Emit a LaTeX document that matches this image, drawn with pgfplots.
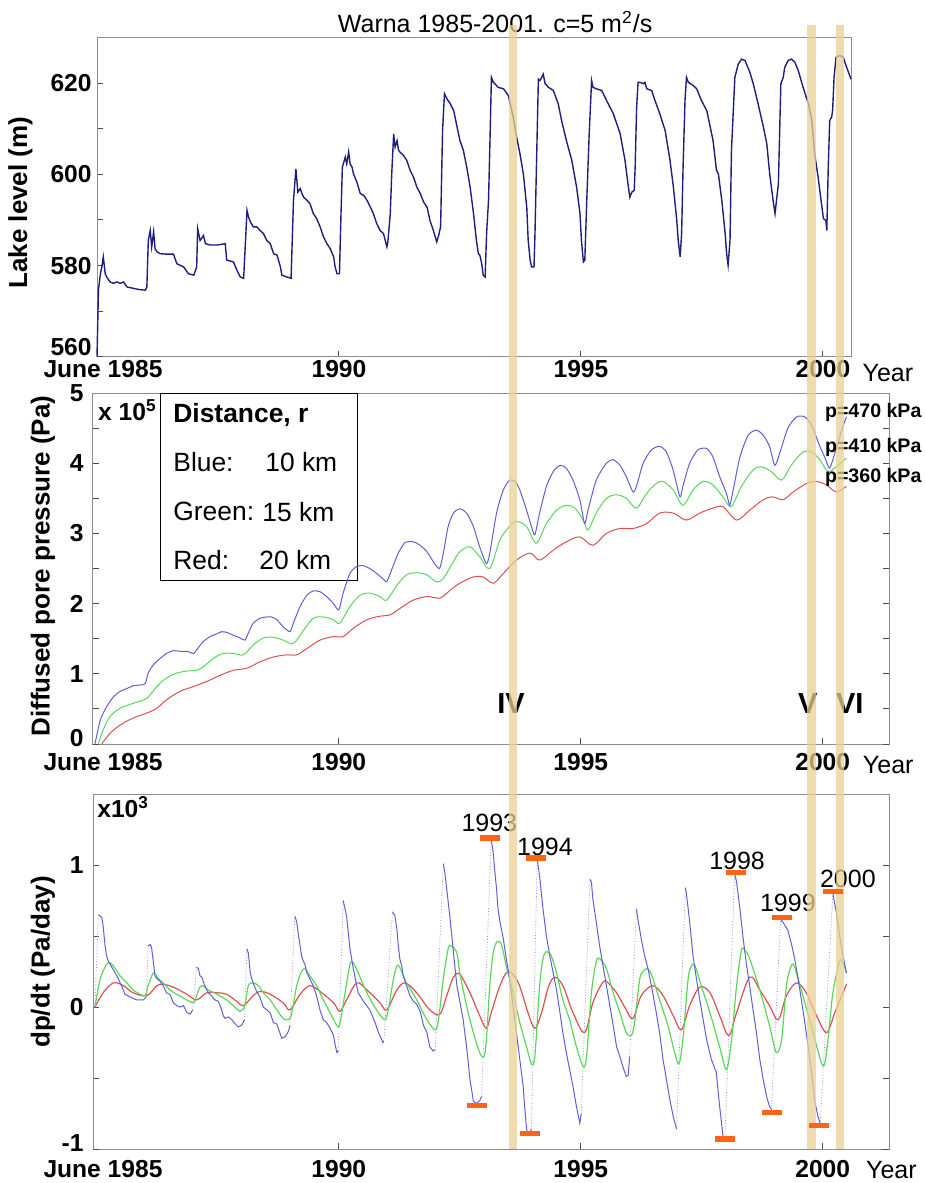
\documentclass[border=0pt]{standalone}
\usepackage{fontspec}
\setmainfont{Liberation Sans}
\usepackage{pgfplots}
\pgfplotsset{compat=1.18}

\definecolor{lakeblue}{RGB}{30,30,128}
\definecolor{pblue}{RGB}{95,95,215}
\definecolor{pgreen}{RGB}{90,215,90}
\definecolor{pred}{RGB}{220,80,80}
\definecolor{band}{RGB}{232,208,150}
\definecolor{peak}{RGB}{255,100,20}
\definecolor{frame}{RGB}{140,140,140}

\newcommand\tickfont{\fontsize{12.3}{14}\selectfont\bfseries}
\newcommand\labfont{\fontsize{13}{15}\selectfont\bfseries}
\newcommand\txtfont{\fontsize{12.5}{14}\selectfont}

\pgfplotsset{
  panel/.style={
    scale only axis,
    clip=false,
    axis line style={frame, line width=0.5pt},
    tick style={black!70, line width=0.5pt},
    tick align=inside,
    major tick length=3pt,
    minor tick length=3pt,
    xtick pos=left,
    ticklabel style={font=\tickfont},
    /pgf/number format/assume math mode=true,
    label style={font=\labfont},
  },
}

\begin{document}
\begin{tikzpicture}
\useasboundingbox (0,0) rectangle (462.5pt,-591.5pt);

% ---------------- lake level ----------------
\begin{axis}[panel,
  at={(48.5pt,-18.85pt)}, anchor=north west,
  width=377pt, height=159.5pt,
  xmin=1985, xmax=2000.58, ymin=560, ymax=630,
  ytick={580,600,620}, minor ytick={570,590,610},
  extra y ticks={560},
  extra y tick style={yticklabel style={yshift=5pt}},
  ytick pos=left,
  xtick={1985,1990,1995,2000},
  xticklabels={{\hspace*{6pt}June 1985},1990,1995,2000},
  xticklabel style={inner sep=1.5pt},
  yticklabel style={inner sep=2.5pt},
  ylabel={Lake level (m)},
  ylabel style={at={(axis description cs:-0.1015,0.483)}, anchor=center},
]
\addplot[lakeblue, line width=0.7pt] table[row sep=\\] {
1985.00 560.0\\ 1985.03 574.6\\ 1985.07 578.2\\ 1985.10 579.7\\ 1985.13 581.9\\
1985.17 578.2\\ 1985.20 577.5\\ 1985.27 576.4\\ 1985.34 576.1\\ 1985.41 576.4\\
1985.48 576.1\\ 1985.55 576.4\\ 1985.62 575.3\\ 1985.75 575.0\\ 1985.89 574.7\\
1986.00 574.6\\ 1986.03 575.3\\ 1986.06 585.5\\ 1986.10 587.7\\ 1986.13 584.1\\
1986.17 587.4\\ 1986.20 583.7\\ 1986.24 583.0\\ 1986.31 582.6\\ 1986.44 582.5\\
1986.58 582.5\\ 1986.65 580.4\\ 1986.79 579.7\\ 1986.89 578.2\\ 1987.00 577.9\\
1987.06 579.7\\ 1987.08 588.1\\ 1987.13 585.5\\ 1987.20 586.6\\ 1987.24 584.8\\
1987.34 584.5\\ 1987.48 584.5\\ 1987.65 584.8\\ 1987.68 581.2\\ 1987.82 580.8\\
1987.89 579.0\\ 1987.96 577.5\\ 1988.03 577.2\\ 1988.10 592.1\\ 1988.13 590.7\\
1988.17 589.6\\ 1988.23 588.5\\ 1988.30 588.5\\ 1988.37 587.7\\ 1988.44 587.0\\
1988.51 585.5\\ 1988.58 584.8\\ 1988.65 582.6\\ 1988.72 582.3\\ 1988.79 579.7\\
1988.82 577.9\\ 1988.92 577.5\\ 1989.01 577.2\\ 1989.06 594.3\\ 1989.11 601.2\\
1989.15 596.1\\ 1989.20 596.9\\ 1989.23 595.9\\ 1989.27 595.0\\ 1989.34 594.3\\
1989.40 593.6\\ 1989.47 591.4\\ 1989.54 590.3\\ 1989.61 588.5\\ 1989.68 586.3\\
1989.75 584.8\\ 1989.82 583.7\\ 1989.89 581.9\\ 1989.92 579.7\\ 1989.96 578.2\\
1990.01 578.2\\ 1990.04 590.7\\ 1990.07 601.6\\ 1990.13 603.8\\ 1990.16 602.3\\
1990.20 604.9\\ 1990.23 602.3\\ 1990.27 601.6\\ 1990.30 600.1\\ 1990.37 598.3\\
1990.44 595.8\\ 1990.51 595.4\\ 1990.58 594.3\\ 1990.65 592.8\\ 1990.71 591.4\\
1990.78 589.2\\ 1990.85 587.7\\ 1990.92 587.0\\ 1990.99 584.1\\ 1991.01 585.2\\
1991.06 591.4\\ 1991.09 600.1\\ 1991.13 608.9\\ 1991.16 606.0\\ 1991.20 607.4\\
1991.23 605.3\\ 1991.26 604.9\\ 1991.33 604.2\\ 1991.40 603.1\\ 1991.47 600.9\\
1991.54 599.4\\ 1991.61 597.2\\ 1991.68 595.8\\ 1991.75 593.9\\ 1991.82 592.8\\
1991.88 589.9\\ 1991.95 587.7\\ 1992.02 585.2\\ 1992.06 586.6\\ 1992.10 588.5\\
1992.14 609.6\\ 1992.18 617.7\\ 1992.23 616.6\\ 1992.30 615.5\\ 1992.37 614.0\\
1992.47 608.9\\ 1992.50 607.4\\ 1992.57 605.3\\ 1992.64 601.6\\ 1992.71 597.2\\
1992.78 591.4\\ 1992.84 585.5\\ 1992.88 582.6\\ 1992.91 582.3\\ 1992.95 580.4\\
1992.98 577.9\\ 1993.02 577.5\\ 1993.05 587.0\\ 1993.09 594.3\\ 1993.12 607.4\\
1993.15 621.3\\ 1993.19 620.2\\ 1993.22 619.9\\ 1993.29 619.1\\ 1993.40 618.8\\
1993.50 617.3\\ 1993.60 612.6\\ 1993.67 608.2\\ 1993.74 604.5\\ 1993.81 600.1\\
1993.88 592.8\\ 1993.91 585.5\\ 1993.95 581.2\\ 1993.98 579.7\\ 1994.03 579.7\\
1994.05 587.0\\ 1994.08 601.6\\ 1994.12 620.9\\ 1994.15 620.6\\ 1994.19 621.3\\
1994.22 622.0\\ 1994.26 619.9\\ 1994.33 619.1\\ 1994.43 618.4\\ 1994.53 615.5\\
1994.60 611.8\\ 1994.70 607.4\\ 1994.81 603.1\\ 1994.91 597.2\\ 1994.98 591.4\\
1995.01 585.5\\ 1995.05 580.8\\ 1995.08 581.2\\ 1995.12 594.3\\ 1995.17 608.9\\
1995.22 620.6\\ 1995.25 619.1\\ 1995.32 618.8\\ 1995.43 618.4\\ 1995.53 616.2\\
1995.67 613.3\\ 1995.81 608.9\\ 1995.91 603.1\\ 1995.98 597.2\\ 1996.01 595.0\\
1996.05 596.1\\ 1996.10 596.5\\ 1996.12 601.6\\ 1996.15 614.7\\ 1996.18 620.2\\
1996.22 620.2\\ 1996.29 619.9\\ 1996.32 620.2\\ 1996.36 618.8\\ 1996.46 618.4\\
1996.53 616.2\\ 1996.63 613.3\\ 1996.74 609.6\\ 1996.84 603.1\\ 1996.91 597.2\\
1996.98 589.9\\ 1997.01 585.5\\ 1997.05 581.9\\ 1997.08 587.0\\ 1997.11 601.6\\
1997.15 616.2\\ 1997.18 621.3\\ 1997.22 620.2\\ 1997.32 619.5\\ 1997.39 618.8\\
1997.49 616.2\\ 1997.60 614.0\\ 1997.73 607.4\\ 1997.80 600.9\\ 1997.84 600.1\\
1997.91 594.3\\ 1997.98 587.0\\ 1998.01 582.6\\ 1998.04 580.1\\ 1998.08 585.5\\
1998.11 605.3\\ 1998.18 621.3\\ 1998.25 624.2\\ 1998.32 625.3\\ 1998.39 625.0\\
1998.49 622.4\\ 1998.56 619.9\\ 1998.66 615.5\\ 1998.77 610.4\\ 1998.84 606.7\\
1998.90 600.1\\ 1998.97 594.3\\ 1999.01 591.4\\ 1999.08 598.0\\ 1999.13 619.9\\
1999.18 621.3\\ 1999.21 623.5\\ 1999.28 625.0\\ 1999.35 625.3\\ 1999.42 624.6\\
1999.49 622.8\\ 1999.59 619.1\\ 1999.70 615.5\\ 1999.77 611.8\\ 1999.83 604.5\\
1999.90 599.4\\ 1999.97 593.6\\ 2000.01 590.3\\ 2000.06 589.9\\ 2000.08 587.7\\
2000.11 601.6\\ 2000.14 611.8\\ 2000.18 612.6\\ 2000.20 614.0\\ 2000.23 621.3\\
2000.27 625.7\\ 2000.35 626.1\\ 2000.42 625.7\\ 2000.49 623.5\\ 2000.58 620.9\\
};
\node[font=\txtfont] at (axis description cs:0.528,1.049)
  {Warna 1985-2001. c=5 m\textsuperscript{2}/s};
\node[font=\txtfont] at (axis description cs:1.049,-0.050) {Year};
\end{axis}

% ---------------- diffused pore pressure ----------------
\begin{axis}[panel,
  at={(46.5pt,-196.5pt)}, anchor=north west,
  width=398pt, height=175.5pt,
  xmin=1984.92, xmax=2001.37, ymin=0, ymax=5,
  ytick={1,2,3,4,5}, minor ytick={0.5,1.5,2.5,3.5,4.5},
  extra y ticks={0},
  extra y tick style={yticklabel style={yshift=3pt}},
  ytick pos=both, yticklabel pos=left,
  xtick={1984.92,1990,1995,2000},
  xticklabels={{\hspace*{10pt}June 1985},1990,1995,2000},
  xticklabel style={inner sep=4.5pt},
  yticklabel style={inner sep=4.5pt},
  ylabel={Diffused pore pressure (Pa)},
  ylabel style={at={(axis description cs:-0.0628,0.507)}, anchor=center},
]
\node[font=\tickfont, anchor=west, inner sep=0pt] at (axis description cs:0.006,0.952)
  {x 10\textsuperscript{5}};
\draw[black, line width=0.5pt, fill=white]
  (axis description cs:0.0842,1.0) rectangle (axis description cs:0.3325,0.4652);
\begin{scope}[font=\fontsize{13.2}{15}\selectfont, inner sep=0pt]
\node[anchor=west, font=\fontsize{13.2}{15}\selectfont\bfseries] at (axis description cs:0.1005,0.938) {Distance, r};
\node[anchor=west] at (axis description cs:0.1005,0.802) {Blue:};
\node[anchor=west] at (axis description cs:0.2160,0.802) {10 km};
\node[anchor=west] at (axis description cs:0.1005,0.662) {Green:};
\node[anchor=west] at (axis description cs:0.2123,0.662) {15 km};
\node[anchor=west] at (axis description cs:0.1005,0.525) {Red:};
\node[anchor=west] at (axis description cs:0.2085,0.525) {20 km};
\end{scope}

\addplot[pred, line width=0.5pt, smooth, tension=0.5] table[row sep=\\] {
1985.10 0\\ 1985.27 0.15\\ 1985.48 0.27\\ 1985.75 0.37\\ 1986.03 0.44\\
1986.24 0.51\\ 1986.44 0.63\\ 1986.72 0.75\\ 1987.00 0.82\\ 1987.27 0.89\\
1987.55 0.98\\ 1987.82 1.05\\ 1988.10 1.08\\ 1988.37 1.17\\ 1988.65 1.24\\
1988.92 1.27\\ 1989.13 1.27\\ 1989.34 1.36\\ 1989.61 1.48\\ 1989.89 1.53\\
1990.09 1.53\\ 1990.30 1.65\\ 1990.58 1.77\\ 1990.85 1.82\\ 1991.06 1.84\\
1991.26 1.93\\ 1991.54 2.05\\ 1991.82 2.10\\ 1992.09 2.08\\ 1992.30 2.19\\
1992.50 2.29\\ 1992.78 2.38\\ 1992.98 2.38\\ 1993.19 2.29\\ 1993.40 2.43\\
1993.67 2.62\\ 1993.95 2.72\\ 1994.15 2.62\\ 1994.43 2.76\\ 1994.70 2.88\\
1994.98 2.95\\ 1995.25 2.83\\ 1995.53 3.00\\ 1995.81 3.07\\ 1996.08 3.07\\
1996.36 3.14\\ 1996.63 3.29\\ 1996.91 3.29\\ 1997.18 3.19\\ 1997.46 3.29\\
1997.73 3.36\\ 1997.94 3.38\\ 1998.22 3.19\\ 1998.49 3.33\\ 1998.77 3.48\\
1998.97 3.52\\ 1999.18 3.48\\ 1999.39 3.59\\ 1999.66 3.71\\ 1999.87 3.74\\
2000.08 3.69\\ 2000.28 3.59\\ 2000.49 3.67\\
};
\addplot[pgreen, line width=0.5pt, smooth, tension=0.5] table[row sep=\\] {
1985.03 0\\ 1985.13 0.20\\ 1985.27 0.39\\ 1985.48 0.51\\ 1985.75 0.58\\
1986.03 0.65\\ 1986.24 0.82\\ 1986.44 0.94\\ 1986.65 1.01\\ 1986.86 1.04\\
1987.06 1.05\\ 1987.20 1.10\\ 1987.41 1.22\\ 1987.61 1.29\\ 1987.82 1.29\\
1988.03 1.27\\ 1988.23 1.41\\ 1988.44 1.51\\ 1988.65 1.52\\ 1988.85 1.48\\
1989.06 1.43\\ 1989.27 1.62\\ 1989.47 1.79\\ 1989.68 1.81\\ 1989.89 1.77\\
1990.02 1.72\\ 1990.23 1.96\\ 1990.44 2.12\\ 1990.64 2.15\\ 1990.85 2.10\\
1990.99 2.05\\ 1991.20 2.26\\ 1991.40 2.41\\ 1991.61 2.44\\ 1991.82 2.41\\
1992.02 2.31\\ 1992.16 2.36\\ 1992.37 2.60\\ 1992.50 2.74\\ 1992.71 2.81\\
1992.91 2.67\\ 1993.12 2.50\\ 1993.33 2.91\\ 1993.53 3.10\\ 1993.67 3.17\\
1993.88 3.10\\ 1994.08 2.86\\ 1994.29 3.14\\ 1994.50 3.33\\ 1994.70 3.40\\
1994.88 3.36\\ 1995.05 3.19\\ 1995.15 3.05\\ 1995.32 3.29\\ 1995.53 3.50\\
1995.74 3.55\\ 1995.94 3.50\\ 1996.15 3.36\\ 1996.36 3.57\\ 1996.56 3.71\\
1996.70 3.74\\ 1996.91 3.62\\ 1997.11 3.40\\ 1997.32 3.62\\ 1997.53 3.74\\
1997.73 3.69\\ 1997.94 3.52\\ 1998.11 3.38\\ 1998.32 3.67\\ 1998.56 3.90\\
1998.73 3.95\\ 1998.94 3.88\\ 1999.15 3.76\\ 1999.35 3.97\\ 1999.59 4.16\\
1999.77 4.16\\ 1999.94 4.05\\ 2000.11 3.88\\ 2000.28 3.95\\ 2000.49 4.07\\
};
\addplot[pblue, line width=0.5pt, smooth, tension=0.4] table[row sep=\\] {
1984.96 0\\ 1985.07 0.34\\ 1985.20 0.53\\ 1985.34 0.67\\ 1985.48 0.75\\
1985.62 0.79\\ 1985.75 0.83\\ 1985.89 0.84\\ 1986.00 0.86\\ 1986.06 1.01\\
1986.17 1.13\\ 1986.31 1.22\\ 1986.44 1.29\\ 1986.58 1.33\\ 1986.72 1.32\\
1986.86 1.32\\ 1987.00 1.29\\ 1987.06 1.34\\ 1987.20 1.46\\ 1987.34 1.53\\
1987.48 1.57\\ 1987.58 1.60\\ 1987.68 1.59\\ 1987.82 1.55\\ 1987.96 1.51\\
1988.06 1.48\\ 1988.13 1.58\\ 1988.23 1.72\\ 1988.37 1.79\\ 1988.51 1.81\\
1988.61 1.81\\ 1988.72 1.77\\ 1988.85 1.67\\ 1988.99 1.60\\ 1989.06 1.72\\
1989.20 1.96\\ 1989.34 2.12\\ 1989.47 2.18\\ 1989.61 2.17\\ 1989.75 2.10\\
1989.89 2.00\\ 1990.00 1.91\\ 1990.09 2.15\\ 1990.23 2.43\\ 1990.37 2.53\\
1990.51 2.54\\ 1990.64 2.50\\ 1990.78 2.43\\ 1990.92 2.35\\ 1990.99 2.31\\
1991.09 2.48\\ 1991.23 2.72\\ 1991.37 2.87\\ 1991.54 2.88\\ 1991.68 2.83\\
1991.82 2.74\\ 1991.95 2.60\\ 1992.08 2.50\\ 1992.16 2.72\\ 1992.26 3.10\\
1992.37 3.29\\ 1992.50 3.35\\ 1992.64 3.29\\ 1992.78 3.10\\ 1992.91 2.81\\
1993.05 2.57\\ 1993.12 2.72\\ 1993.26 3.29\\ 1993.40 3.62\\ 1993.53 3.76\\
1993.64 3.74\\ 1993.74 3.62\\ 1993.88 3.33\\ 1993.98 3.10\\ 1994.05 2.98\\
1994.15 3.29\\ 1994.29 3.67\\ 1994.43 3.88\\ 1994.57 3.97\\ 1994.70 3.93\\
1994.84 3.76\\ 1994.98 3.48\\ 1995.08 3.14\\ 1995.15 3.33\\ 1995.32 3.76\\
1995.53 4.00\\ 1995.67 4.05\\ 1995.81 3.97\\ 1995.94 3.81\\ 1996.08 3.59\\
1996.15 3.67\\ 1996.29 4.00\\ 1996.46 4.19\\ 1996.63 4.24\\ 1996.77 4.16\\
1996.91 3.90\\ 1997.05 3.52\\ 1997.11 3.67\\ 1997.25 4.00\\ 1997.42 4.19\\
1997.60 4.21\\ 1997.73 4.09\\ 1997.87 3.81\\ 1998.01 3.57\\ 1998.08 3.40\\
1998.15 3.62\\ 1998.29 4.09\\ 1998.46 4.40\\ 1998.63 4.47\\ 1998.77 4.40\\
1998.90 4.24\\ 1999.01 3.97\\ 1999.11 4.14\\ 1999.28 4.50\\ 1999.46 4.66\\
1999.63 4.66\\ 1999.77 4.54\\ 1999.94 4.24\\ 2000.04 4.09\\ 2000.14 3.93\\
2000.25 4.14\\ 2000.39 4.47\\ 2000.49 4.66\\
};
\begin{scope}[font=\fontsize{9.8}{11}\selectfont\bfseries, inner sep=0pt]
\node[anchor=west] at (axis cs:2000.04,4.73) {p=470 kPa};
\node[anchor=west] at (axis cs:2000.04,4.23) {p=410 kPa};
\node[anchor=west] at (axis cs:2000.04,3.80) {p=360 kPa};
\end{scope}
\begin{scope}[font=\fontsize{14.5}{16}\selectfont\bfseries]
\node at (axis cs:1993.56,0.57) {IV};
\node at (axis cs:1999.69,0.57) {V};
\node at (axis cs:2000.56,0.57) {VI};
\end{scope}
\node[font=\txtfont] at (axis description cs:0.999,-0.060) {Year};
\end{axis}

% ---------------- rate dp/dt ----------------
\begin{axis}[panel,
  at={(46.5pt,-397pt)}, anchor=north west,
  width=398pt, height=177.5pt,
  xmin=1984.92, xmax=2001.37, ymin=-1, ymax=1.5,
  ytick={0,1}, minor ytick={-0.5,0.5},
  extra y ticks={-1},
  extra y tick style={yticklabel style={yshift=3pt}},
  ytick pos=both, yticklabel pos=left,
  xtick={1984.92,1990,1995,2000},
  xticklabels={{\hspace*{10pt}June 1985},1990,1995,2000},
  xticklabel style={inner sep=5.5pt},
  yticklabel style={inner sep=4.5pt},
  ylabel={dp/dt (Pa/day)},
  ylabel style={at={(axis description cs:-0.0628,0.527)}, anchor=center},
]
\node[font=\tickfont, anchor=west, inner sep=0pt] at (axis description cs:0.005,0.963)
  {x10\textsuperscript{3}};

% jumps between consecutive troughs and peaks
\addplot[pblue!70, line width=0.4pt, densely dotted, unbounded coords=jump] table[row sep=\\] {
1984.96 0\\ 1985.03 0.65\\ nan nan\\
1986.02 0.07\\ 1986.06 0.43\\ nan nan\\
1986.98 -0.02\\ 1987.06 0.28\\ nan nan\\
1988.05 -0.09\\ 1988.10 0.41\\ nan nan\\
1988.99 -0.13\\ 1989.09 0.64\\ nan nan\\
1989.99 -0.31\\ 1990.09 0.75\\ nan nan\\
1990.93 -0.24\\ 1991.11 0.67\\ nan nan\\
1991.99 -0.30\\ 1992.16 1.01\\ nan nan\\
1992.95 -0.63\\ 1993.15 1.18\\ nan nan\\
1993.98 -0.86\\ 1994.10 1.04\\ nan nan\\
1995.01 -0.75\\ 1995.19 0.90\\ nan nan\\
1996.01 -0.35\\ 1996.15 0.69\\ nan nan\\
1996.98 -0.86\\ 1997.16 0.84\\ nan nan\\
1997.98 -0.92\\ 1998.18 0.94\\ nan nan\\
1998.94 -0.72\\ 1999.13 0.62\\ nan nan\\
1999.95 -0.82\\ 2000.21 0.80\\
};
\addplot[pred, line width=0.6pt, smooth, tension=0.55] table[row sep=\\] {
1984.96 0\\ 1985.13 0.10\\ 1985.34 0.17\\ 1985.55 0.15\\ 1985.75 0.10\\
1986.03 0.08\\ 1986.24 0.15\\ 1986.37 0.16\\ 1986.58 0.14\\ 1986.86 0.09\\
1987.06 0.05\\ 1987.27 0.10\\ 1987.48 0.10\\ 1987.68 0.09\\ 1987.89 0.04\\
1988.03 0.01\\ 1988.23 0.08\\ 1988.37 0.11\\ 1988.58 0.09\\ 1988.85 0.03\\
1988.99 -0.02\\ 1989.20 0.09\\ 1989.40 0.15\\ 1989.61 0.11\\ 1989.89 0.03\\
1990.02 -0.03\\ 1990.16 0.05\\ 1990.37 0.17\\ 1990.58 0.12\\ 1990.85 0.03\\
1990.99 -0.02\\ 1991.20 0.12\\ 1991.37 0.17\\ 1991.61 0.10\\ 1991.88 -0.02\\
1992.09 -0.05\\ 1992.23 0.08\\ 1992.37 0.21\\ 1992.50 0.23\\ 1992.71 0.10\\
1992.91 -0.06\\ 1993.05 -0.15\\ 1993.15 -0.04\\ 1993.33 0.15\\ 1993.50 0.25\\
1993.71 0.17\\ 1993.91 -0.04\\ 1994.05 -0.15\\ 1994.19 -0.04\\ 1994.33 0.14\\
1994.46 0.21\\ 1994.63 0.15\\ 1994.84 -0.04\\ 1995.08 -0.18\\ 1995.25 0.03\\
1995.43 0.16\\ 1995.53 0.18\\ 1995.74 0.10\\ 1995.94 -0.02\\ 1996.08 -0.08\\
1996.25 0.08\\ 1996.49 0.15\\ 1996.70 0.08\\ 1996.91 -0.06\\ 1997.08 -0.16\\
1997.25 0.01\\ 1997.46 0.14\\ 1997.67 0.10\\ 1997.87 -0.06\\ 1998.06 -0.20\\
1998.22 -0.04\\ 1998.49 0.21\\ 1998.70 0.12\\ 1998.90 0.01\\ 1999.08 -0.09\\
1999.25 0.08\\ 1999.46 0.17\\ 1999.66 0.10\\ 1999.87 -0.06\\ 2000.08 -0.18\\
2000.25 -0.04\\ 2000.49 0.16\\
};
\addplot[pgreen, line width=0.6pt, smooth, tension=0.5] table[row sep=\\] {
1984.96 0\\ 1985.07 0.20\\ 1985.20 0.30\\ 1985.27 0.31\\ 1985.34 0.29\\
1985.48 0.22\\ 1985.62 0.17\\ 1985.75 0.12\\ 1985.89 0.09\\ 1986.00 0.08\\
1986.06 0.15\\ 1986.17 0.24\\ 1986.27 0.20\\ 1986.37 0.17\\ 1986.51 0.12\\
1986.65 0.09\\ 1986.86 0.05\\ 1987.00 0.03\\ 1987.06 0.08\\ 1987.13 0.14\\
1987.20 0.15\\ 1987.30 0.12\\ 1987.48 0.09\\ 1987.68 0.05\\ 1987.82 0.01\\
1987.96 -0.03\\ 1988.06 0.01\\ 1988.13 0.15\\ 1988.23 0.17\\ 1988.34 0.15\\
1988.44 0.10\\ 1988.58 0.05\\ 1988.72 -0.02\\ 1988.85 -0.08\\ 1988.96 -0.09\\
1989.03 -0.04\\ 1989.13 0.15\\ 1989.23 0.25\\ 1989.30 0.27\\ 1989.40 0.22\\
1989.54 0.15\\ 1989.68 0.05\\ 1989.82 -0.04\\ 1989.96 -0.13\\ 1990.02 -0.12\\
1990.13 0.10\\ 1990.23 0.30\\ 1990.30 0.31\\ 1990.40 0.24\\ 1990.58 0.10\\
1990.78 -0.02\\ 1990.95 -0.09\\ 1991.02 -0.02\\ 1991.13 0.20\\ 1991.20 0.29\\
1991.26 0.28\\ 1991.40 0.17\\ 1991.61 0.05\\ 1991.82 -0.09\\ 1991.99 -0.16\\
1992.06 -0.09\\ 1992.16 0.20\\ 1992.26 0.41\\ 1992.33 0.43\\ 1992.44 0.38\\
1992.50 0.24\\ 1992.64 0.01\\ 1992.78 -0.18\\ 1992.91 -0.32\\ 1993.00 -0.35\\
1993.05 -0.23\\ 1993.12 0.15\\ 1993.19 0.38\\ 1993.27 0.46\\ 1993.36 0.44\\
1993.46 0.29\\ 1993.60 0.10\\ 1993.74 -0.11\\ 1993.88 -0.28\\ 1993.98 -0.40\\
1994.05 -0.35\\ 1994.15 0.15\\ 1994.22 0.34\\ 1994.29 0.39\\ 1994.39 0.36\\
1994.50 0.24\\ 1994.63 0.05\\ 1994.77 -0.09\\ 1994.91 -0.28\\ 1995.05 -0.42\\
1995.12 -0.35\\ 1995.22 0.10\\ 1995.32 0.32\\ 1995.39 0.34\\ 1995.53 0.27\\
1995.67 0.10\\ 1995.81 -0.04\\ 1995.94 -0.18\\ 1996.05 -0.20\\ 1996.12 -0.09\\
1996.22 0.20\\ 1996.29 0.25\\ 1996.36 0.27\\ 1996.46 0.23\\ 1996.63 0.05\\
1996.80 -0.13\\ 1996.94 -0.32\\ 1997.03 -0.40\\ 1997.11 -0.23\\ 1997.22 0.20\\
1997.29 0.29\\ 1997.36 0.29\\ 1997.49 0.15\\ 1997.67 -0.04\\ 1997.87 -0.28\\
1998.01 -0.44\\ 1998.11 -0.25\\ 1998.22 0.15\\ 1998.32 0.40\\ 1998.39 0.40\\
1998.49 0.34\\ 1998.70 0.12\\ 1998.90 -0.13\\ 1999.04 -0.32\\ 1999.15 -0.23\\
1999.25 0.15\\ 1999.35 0.29\\ 1999.42 0.28\\ 1999.59 0.08\\ 1999.80 -0.18\\
1999.97 -0.39\\ 2000.04 -0.40\\ 2000.11 -0.23\\ 2000.21 0.10\\ 2000.35 0.32\\
2000.42 0.31\\ 2000.49 0.24\\
};
% decline branches between the jumps
\addplot[pblue, line width=0.5pt, unbounded coords=jump] table[row sep=\\] {
1985.03 0.65\\ 1985.07 0.64\\ 1985.10 0.63\\ 1985.13 0.57\\ 1985.17 0.43\\
1985.20 0.36\\ 1985.24 0.32\\ 1985.31 0.28\\ 1985.38 0.24\\ 1985.44 0.20\\
1985.51 0.15\\ 1985.58 0.09\\ 1985.69 0.07\\ 1985.82 0.05\\ 1985.96 0.05\\
1986.02 0.07\\ nan nan\\
1986.06 0.43\\ 1986.10 0.44\\ 1986.13 0.42\\ 1986.17 0.31\\ 1986.20 0.22\\
1986.24 0.20\\ 1986.31 0.18\\ 1986.37 0.15\\ 1986.44 0.10\\ 1986.51 0.09\\
1986.58 0.03\\ 1986.65 0.01\\ 1986.72 0.00\\ 1986.79 0.01\\ 1986.86 -0.04\\
1986.93 -0.05\\ 1986.98 -0.02\\ nan nan\\
1987.06 0.28\\ 1987.10 0.27\\ 1987.13 0.22\\ 1987.17 0.21\\ 1987.20 0.18\\
1987.24 0.14\\ 1987.30 0.10\\ 1987.37 0.08\\ 1987.44 0.05\\ 1987.51 0.04\\
1987.58 -0.02\\ 1987.61 -0.06\\ 1987.65 -0.08\\ 1987.72 -0.07\\ 1987.79 -0.09\\
1987.86 -0.12\\ 1987.92 -0.14\\ 1987.99 -0.13\\ 1988.05 -0.09\\ nan nan\\
1988.10 0.41\\ 1988.13 0.38\\ 1988.17 0.24\\ 1988.20 0.20\\ 1988.23 0.17\\
1988.30 0.11\\ 1988.37 0.07\\ 1988.44 0.00\\ 1988.51 -0.02\\ 1988.58 -0.04\\
1988.65 -0.11\\ 1988.72 -0.12\\ 1988.79 -0.19\\ 1988.82 -0.22\\ 1988.89 -0.21\\
1988.96 -0.17\\ 1988.99 -0.13\\ nan nan\\
1989.09 0.64\\ 1989.13 0.60\\ 1989.16 0.52\\ 1989.20 0.43\\ 1989.23 0.36\\
1989.27 0.32\\ 1989.30 0.30\\ 1989.34 0.24\\ 1989.40 0.20\\ 1989.47 0.15\\
1989.54 0.08\\ 1989.61 -0.02\\ 1989.68 -0.09\\ 1989.75 -0.11\\ 1989.82 -0.15\\
1989.89 -0.20\\ 1989.92 -0.26\\ 1989.96 -0.32\\ 1989.99 -0.31\\ nan nan\\
1990.09 0.75\\ 1990.13 0.69\\ 1990.16 0.64\\ 1990.23 0.41\\ 1990.30 0.27\\
1990.40 0.10\\ 1990.51 0.04\\ 1990.64 -0.02\\ 1990.75 -0.11\\ 1990.82 -0.18\\
1990.85 -0.20\\ 1990.91 -0.25\\ 1990.93 -0.24\\ nan nan\\
1991.11 0.67\\ 1991.16 0.64\\ 1991.20 0.55\\ 1991.23 0.43\\ 1991.26 0.34\\
1991.30 0.29\\ 1991.33 0.22\\ 1991.40 0.15\\ 1991.47 0.08\\ 1991.54 0.04\\
1991.61 0.02\\ 1991.68 -0.03\\ 1991.75 -0.13\\ 1991.82 -0.18\\ 1991.88 -0.28\\
1991.95 -0.31\\ 1991.99 -0.30\\ nan nan\\
1992.16 1.01\\ 1992.19 0.95\\ 1992.23 0.83\\ 1992.30 0.62\\ 1992.37 0.38\\
1992.44 0.15\\ 1992.50 0.04\\ 1992.57 -0.09\\ 1992.64 -0.28\\ 1992.71 -0.51\\
1992.78 -0.66\\ 1992.84 -0.68\\ 1992.91 -0.66\\ 1992.95 -0.63\\ nan nan\\
1993.15 1.18\\ 1993.19 1.09\\ 1993.22 0.97\\ 1993.26 0.83\\ 1993.29 0.69\\
1993.33 0.60\\ 1993.40 0.48\\ 1993.46 0.34\\ 1993.53 0.20\\ 1993.60 0.01\\
1993.67 -0.18\\ 1993.74 -0.37\\ 1993.81 -0.56\\ 1993.84 -0.70\\ 1993.88 -0.86\\
1993.91 -0.89\\ 1993.95 -0.88\\ 1993.98 -0.86\\ nan nan\\
1994.10 1.04\\ 1994.15 0.92\\ 1994.22 0.69\\ 1994.29 0.50\\ 1994.36 0.36\\
1994.43 0.24\\ 1994.50 0.12\\ 1994.57 -0.04\\ 1994.63 -0.18\\ 1994.70 -0.32\\
1994.77 -0.44\\ 1994.84 -0.56\\ 1994.91 -0.70\\ 1994.98 -0.82\\ 1995.01 -0.75\\
nan nan\\
1995.19 0.90\\ 1995.22 0.88\\ 1995.25 0.76\\ 1995.32 0.60\\ 1995.39 0.43\\
1995.46 0.29\\ 1995.53 0.15\\ 1995.60 0.01\\ 1995.67 -0.13\\ 1995.74 -0.28\\
1995.81 -0.35\\ 1995.87 -0.42\\ 1995.94 -0.49\\ 1995.98 -0.48\\ 1996.01 -0.35\\
nan nan\\
1996.15 0.69\\ 1996.18 0.62\\ 1996.25 0.48\\ 1996.32 0.36\\ 1996.39 0.27\\
1996.46 0.15\\ 1996.56 -0.04\\ 1996.63 -0.18\\ 1996.70 -0.37\\ 1996.77 -0.51\\
1996.84 -0.65\\ 1996.91 -0.77\\ 1996.98 -0.86\\ nan nan\\
1997.16 0.84\\ 1997.18 0.81\\ 1997.25 0.60\\ 1997.32 0.36\\ 1997.39 0.20\\
1997.46 0.05\\ 1997.53 -0.09\\ 1997.60 -0.23\\ 1997.70 -0.37\\ 1997.80 -0.46\\
1997.87 -0.70\\ 1997.94 -0.91\\ 1997.98 -0.92\\ nan nan\\
1998.18 0.94\\ 1998.22 0.88\\ 1998.29 0.69\\ 1998.35 0.50\\ 1998.42 0.31\\
1998.49 0.15\\ 1998.56 -0.02\\ 1998.63 -0.18\\ 1998.70 -0.37\\ 1998.77 -0.51\\
1998.84 -0.63\\ 1998.90 -0.70\\ 1998.94 -0.72\\ nan nan\\
1999.13 0.62\\ 1999.21 0.58\\ 1999.28 0.54\\ 1999.35 0.45\\ 1999.42 0.34\\
1999.49 0.20\\ 1999.56 0.05\\ 1999.63 -0.11\\ 1999.70 -0.28\\ 1999.77 -0.46\\
1999.83 -0.65\\ 1999.90 -0.77\\ 1999.95 -0.82\\ nan nan\\
2000.21 0.80\\ 2000.28 0.67\\ 2000.35 0.50\\ 2000.42 0.36\\ 2000.49 0.24\\
};
% extreme rates of the marked years
\addplot[only marks, mark=-, mark size=5pt, mark options={peak, line width=2.6pt}] table[row sep=\\] {
1993.13 1.19\\ 1994.08 1.05\\ 1998.21 0.946\\ 1999.15 0.633\\ 2000.21 0.814\\
1992.85 -0.694\\ 1993.96 -0.893\\ 1997.98 -0.929\\ 1998.95 -0.743\\ 1999.92 -0.833\\
};
\begin{scope}[font=\txtfont, inner sep=0pt]
\node at (axis cs:1993.11,1.296) {1993};
\node at (axis cs:1994.26,1.131) {1994};
\node at (axis cs:1998.23,1.028) {1998};
\node at (axis cs:1999.28,0.732) {1999};
\node at (axis cs:2000.52,0.901) {2000};
\end{scope}
\node[font=\txtfont] at (axis description cs:1.003,-0.059) {Year};

% seismic episodes IV, V and VI, shaded through all three panels
\fill[band, opacity=0.75] (axis cs:1993.51,-1) rectangle (axis cs:1993.68,6.914);
\fill[band, opacity=0.75] (axis cs:1999.68,-1) rectangle (axis cs:1999.86,6.914);
\fill[band, opacity=0.75] (axis cs:2000.27,-1) rectangle (axis cs:2000.43,6.914);
\end{axis}
\end{tikzpicture}
\end{document}
